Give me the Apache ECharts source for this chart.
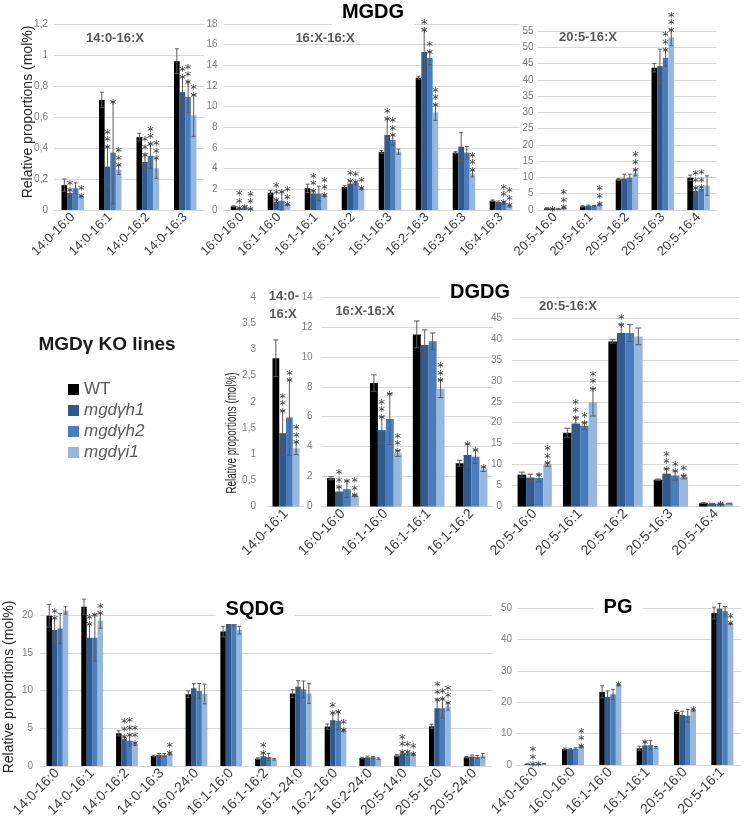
<!DOCTYPE html>
<html><head><meta charset="utf-8">
<script src="https://cdn.jsdelivr.net/npm/echarts@6/dist/echarts.min.js"></script>
<style>html,body{margin:0;padding:0;background:#fff}#c{width:745px;height:822px}</style>
</head><body><div id="c"></div>
<script>
// ---------- DATA ----------
const genotypes = ['WT', 'mgdγh1', 'mgdγh2', 'mgdγi1'];

// MGDG 14:0-16:X
const mgdgACats = ['14:0-16:0', '14:0-16:1', '14:0-16:2', '14:0-16:3'];
const mgdgAMean = [[0.16, 0.71, 0.47, 0.96], [0.11, 0.28, 0.31, 0.76], [0.14, 0.37, 0.35, 0.73], [0.09, 0.26, 0.27, 0.61]];
const mgdgAErr = [[0.04, 0.05, 0.025, 0.08], [0.02, 0.13, 0.05, 0.1], [0.035, 0.33, 0.08, 0.1], [0.005, 0.03, 0.065, 0.135]];
const mgdgAStars = [[0, 0, 0, 0], [2, 3, 3, 2], [0, 1, 3, 3], [2, 3, 3, 2]];

// MGDG 16:X-16:X
const mgdgBCats = ['16:0-16:0', '16:1-16:0', '16:1-16:1', '16:1-16:2', '16:1-16:3', '16:2-16:3', '16:3-16:3', '16:4-16:3'];
const mgdgBMean = [[0.35, 1.68, 2.1, 2.23, 5.6, 12.8, 5.55, 0.9], [0.16, 0.77, 1.6, 2.55, 7.26, 15.3, 6.13, 0.77], [0.22, 0.9, 1.6, 2.58, 6.77, 14.7, 5.55, 0.7], [0.1, 0.52, 1.39, 2.06, 5.65, 9.45, 3.55, 0.39]];
const mgdgBErr = [[0.05, 0.2, 0.4, 0.12, 0.15, 0.15, 0.1, 0.07], [0.05, 0.25, 0.3, 0.3, 1.6, 2.2, 1.35, 0.1], [0.15, 0.9, 0.7, 0.16, 0.5, 0.65, 0.6, 0.12], [0.03, 0.05, 0.1, 0.1, 0.25, 0.77, 0.35, 0.1]];
const mgdgBStars = [[0, 0, 0, 0, 0, 0, 0, 0], [3, 3, 3, 2, 2, 2, 0, 0], [1, 1, 0, 2, 3, 2, 0, 3], [3, 3, 3, 2, 0, 3, 3, 3]];

// MGDG 20:5-16:X
const mgdgCCats = ['20:5-16:0', '20:5-16:1', '20:5-16:2', '20:5-16:3', '20:5-16:4'];
const mgdgCMean = [[0.5, 1.1, 9.4, 43.7, 9.9], [0.4, 1.3, 9.7, 44.2, 5.9], [0.4, 1.2, 9.9, 46.8, 6.5], [0.7, 1.8, 11.5, 53.0, 7.5]];
const mgdgCErr = [[0.2, 0.2, 0.3, 1.3, 0.8], [0.1, 0.2, 1.3, 5.2, 1.0], [0.1, 0.2, 1.1, 2.6, 0.6], [0.2, 0.3, 1.0, 2.5, 3.0]];
const mgdgCStars = [[0, 0, 0, 0, 0], [1, 0, 0, 0, 3], [0, 0, 0, 3, 3], [3, 3, 3, 3, 0]];

// DGDG 14:0-16:X
const dgdgACats = ['14:0-16:1'];
const dgdgAMean = [[2.83], [1.4], [1.7], [1.11]];
const dgdgAErr = [[0.35], [0.43], [0.72], [0.12]];
const dgdgAStars = [[0], [3], [2], [3]];

// DGDG 16:X-16:X
const dgdgBCats = ['16:0-16:0', '16:1-16:0', '16:1-16:1', '16:1-16:2'];
const dgdgBMean = [[1.89, 8.25, 11.5, 2.89], [1.0, 5.1, 10.8, 3.44], [1.16, 5.85, 11.05, 3.33], [0.73, 3.55, 7.87, 2.49]];
const dgdgBErr = [[0.1, 0.55, 0.9, 0.2], [0.3, 0.9, 1.0, 0.75], [0.55, 1.7, 0.55, 0.45], [0.05, 0.2, 0.6, 0.15]];
const dgdgBStars = [[0, 0, 0, 0], [3, 3, 0, 1], [1, 1, 0, 1], [3, 3, 3, 1]];

// DGDG 20:5-16:X
const dgdgCCats = ['20:5-16:0', '20:5-16:1', '20:5-16:2', '20:5-16:3', '20:5-16:4'];
const dgdgCMean = [[7.6, 17.6, 39.4, 6.4, 0.8], [6.9, 19.8, 41.4, 7.84, 0.65], [6.8, 19.3, 41.4, 7.4, 0.65], [10.0, 24.9, 40.6, 7.0, 0.7]];
const dgdgCErr = [[0.6, 1.1, 0.4, 0.15, 0.1], [0.8, 1.5, 2.1, 1.2, 0.1], [0.9, 0.8, 2.0, 1.1, 0.1], [0.4, 3.3, 2.0, 0.4, 0.1]];
const dgdgCStars = [[0, 0, 0, 0, 0], [0, 3, 2, 3, 0], [1, 2, 0, 2, 1], [3, 3, 0, 2, 0]];

// SQDG
const sqdgCats = ['14:0-16:0', '14:0-16:1', '14:0-16:2', '14:0-16:3', '16:0-24:0', '16:1-16:0', '16:1-16:2', '16:1-24:0', '16:2-16:0', '16:2-24:0', '20:5-14:0', '20:5-16:0', '20:5-24:0'];
const sqdgMean = [
  [19.9, 21.1, 4.33, 1.33, 9.5, 17.8, 0.97, 9.6, 5.22, 1.06, 1.37, 5.25, 1.15],
  [18.0, 17.0, 3.55, 1.46, 10.3, 19.3, 1.28, 10.5, 6.06, 1.15, 1.68, 7.65, 1.24],
  [18.2, 17.0, 3.36, 1.46, 9.93, 19.5, 1.2, 10.15, 6.0, 1.15, 1.68, 7.65, 1.2],
  [20.6, 19.25, 2.9, 1.64, 9.54, 18.0, 0.88, 9.6, 4.7, 0.97, 1.55, 7.9, 1.37]];
const sqdgErr = [
  [1.5, 1.0, 0.33, 0.1, 0.45, 0.7, 0.1, 0.5, 0.35, 0.1, 0.12, 0.3, 0.1],
  [1.6, 1.8, 0.4, 0.2, 0.6, 1.0, 0.5, 0.8, 1.0, 0.15, 0.22, 1.2, 0.2],
  [2.0, 3.1, 0.75, 0.2, 1.0, 1.0, 0.48, 1.1, 1.2, 0.1, 0.22, 1.3, 0.2],
  [0.5, 1.0, 0.2, 0.16, 1.3, 0.5, 0.1, 1.3, 0.15, 0.1, 0.13, 0.5, 0.3]];
const sqdgStars = [
  [0, 0, 0, 0, 0, 0, 0, 0, 0, 0, 0, 0, 0],
  [2, 2, 3, 0, 0, 0, 2, 0, 2, 0, 3, 3, 0],
  [0, 1, 3, 0, 0, 0, 0, 0, 1, 0, 2, 2, 0],
  [0, 2, 3, 2, 0, 0, 0, 0, 2, 0, 2, 3, 0]];

// PG
const pgCats = ['14:0-16:0', '16:0-16:0', '16:1-16:0', '16:1-16:1', '20:5-16:0', '20:5-16:1'];
const pgMean = [[0.3, 5.1, 23.3, 5.3, 16.9, 48.4], [0.2, 5.0, 21.7, 6.25, 15.9, 49.8], [0.3, 5.2, 22.5, 6.35, 15.7, 49.0], [0.4, 5.9, 25.5, 5.6, 17.5, 45.0]];
const pgErr = [[0.1, 0.3, 1.9, 0.7, 0.5, 1.9], [0.1, 0.2, 1.9, 1.2, 1.2, 1.6], [0.1, 0.3, 1.6, 1.4, 2.0, 1.5], [0.1, 0.3, 0.3, 0.3, 0.3, 0.2]];
const pgStars = [[0, 0, 0, 0, 0, 0], [3, 0, 0, 1, 0, 0], [1, 0, 0, 0, 0, 0], [0, 3, 1, 0, 1, 2]];

// ---------- LAYOUT / STYLE ----------
const colors = ['#000000', '#2E5A8E', '#4A7DBE', '#98B7DD'];
const FONT = 'Liberation Sans';
const panels = [
  {cats: mgdgACats, mean: mgdgAMean, err: mgdgAErr, stars: mgdgAStars, grid: {left: 54, top: 24, width: 150, height: 186}, max: 1.2, interval: 0.2, gap: 0.40, ym: 6, xf: 13, split: true},
  {cats: mgdgBCats, mean: mgdgBMean, err: mgdgBErr, stars: mgdgBStars, grid: {left: 223.5, top: 24, width: 296, height: 186}, max: 18, interval: 2, gap: 0.39, ym: 6, xf: 13, split: true},
  {cats: mgdgCCats, mean: mgdgCMean, err: mgdgCErr, stars: mgdgCStars, grid: {left: 537.5, top: 31, width: 179, height: 179}, max: 55, interval: 5, gap: 0.37, ym: 4, xf: 13, split: true},
  {cats: dgdgACats, mean: dgdgAMean, err: dgdgAErr, stars: dgdgAStars, grid: {left: 268, top: 297, width: 36, height: 209.5}, max: 4, interval: 0.5, gap: 0.25, ym: 12, xf: 14, split: false},
  {cats: dgdgBCats, mean: dgdgBMean, err: dgdgBErr, stars: dgdgBStars, grid: {left: 321.5, top: 297, width: 171.5, height: 209.5}, max: 14, interval: 2, gap: 0.26, ym: 9, xf: 14, split: true},
  {cats: dgdgCCats, mean: dgdgCMean, err: dgdgCErr, stars: dgdgCStars, grid: {left: 512, top: 297, width: 227, height: 209.5}, max: 50, interval: 5, gap: 0.245, ym: 10, xf: 14, split: true},
  {cats: sqdgCats, mean: sqdgMean, err: sqdgErr, stars: sqdgStars, grid: {left: 40, top: 615, width: 452, height: 151}, max: 20, interval: 5, gap: 0.375, ym: 7, xf: 14, split: true},
  {cats: pgCats, mean: pgMean, err: pgErr, stars: pgStars, grid: {left: 517, top: 608, width: 224, height: 157}, max: 50, interval: 10, gap: 0.41, ym: 5, xf: 14, split: true}
];

const grids = [], xAxes = [], yAxes = [], series = [];
panels.forEach((p, pi) => {
  grids.push(Object.assign({outerBoundsMode: 'none', containLabel: false}, p.grid));
  xAxes.push({
    type: 'category', gridIndex: pi, data: p.cats,
    axisLine: {show: true, lineStyle: {color: '#d9d9d9', width: 1}},
    axisTick: {show: false},
    axisLabel: {interval: 0, rotate: 45, margin: 5, fontSize: p.xf, color: '#404040', fontFamily: FONT, hideOverlap: false},
    splitLine: {show: false}
  });
  yAxes.push({
    type: 'value', gridIndex: pi, min: 0, max: p.max, interval: p.interval,
    axisLine: {show: false}, axisTick: {show: false},
    axisLabel: {margin: p.ym, fontSize: 10, color: '#808080', fontFamily: FONT,
      formatter: v => String(Math.round(v * 100) / 100).replace('.', ',')},
    splitLine: {show: p.split, lineStyle: {color: '#d9d9d9', width: 1}}
  });
  genotypes.forEach((g, k) => {
    series.push({
      type: 'bar', name: g, xAxisIndex: pi, yAxisIndex: pi,
      data: p.mean[k], barGap: '0%', barCategoryGap: (p.gap * 100) + '%',
      itemStyle: {color: colors[k]}, clip: false, silent: true, z: 2
    });
  });
  genotypes.forEach((g, k) => {
    const data = p.cats.map((c, i) => [i, p.mean[k][i], p.err[k][i], p.stars[k][i]]);
    series.push({
      type: 'custom', xAxisIndex: pi, yAxisIndex: pi, z: 3, silent: true, clip: false,
      data: data, encode: {x: 0, y: 1},
      renderItem: function (params, api) {
        const i = api.value(0), v = api.value(1), e = api.value(2), s = api.value(3);
        const band = api.size([1, 0])[0];
        const gw = band * (1 - p.gap);
        const bw = gw / 4;
        const cx = api.coord([i, v])[0] - gw / 2 + bw * (k + 0.5);
        const yTop = api.coord([i, v + e])[1];
        const yBot = api.coord([i, Math.max(v - e, 0)])[1];
        const cap = Math.max(1.8, bw * 0.35);
        const ls = {stroke: '#5a5a5a', lineWidth: 1};
        const ch = [
          {type: 'line', shape: {x1: cx, y1: yTop, x2: cx, y2: yBot}, style: ls},
          {type: 'line', shape: {x1: cx - cap, y1: yTop, x2: cx + cap, y2: yTop}, style: ls},
          {type: 'line', shape: {x1: cx - cap, y1: yBot, x2: cx + cap, y2: yBot}, style: ls}
        ];
        for (let j = 0; j < s; j++) {
          ch.push({type: 'text', x: cx, y: yTop + 3 - j * 7.6,
            style: {text: '*', fill: '#404040', font: '13px "DejaVu Sans"', textAlign: 'center', textVerticalAlign: 'middle'}});
        }
        return {type: 'group', children: ch};
      }
    });
  });
});

function txt(t, x, y, font, fill, extra) {
  return {type: 'text', x: x, y: y, z: 100,
    style: Object.assign({text: t, font: font, fill: fill, textAlign: 'center', textVerticalAlign: 'middle'}, extra || {})};
}
const titleStyle = {backgroundColor: '#ffffff', padding: [4, 10, 6, 10]};
const graphics = [
  txt('MGDG', 373, 12, 'bold 20px "Liberation Sans"', '#000', titleStyle),
  txt('DGDG', 480, 292, 'bold 20px "Liberation Sans"', '#000', titleStyle),
  txt('SQDG', 255, 609, 'bold 20px "Liberation Sans"', '#000', titleStyle),
  txt('PG', 618, 607, 'bold 20px "Liberation Sans"', '#000', titleStyle),
  txt('14:0-16:X', 115, 38, 'bold 13px "Liberation Sans"', '#595959'),
  txt('16:X-16:X', 325, 38, 'bold 13px "Liberation Sans"', '#595959'),
  txt('20:5-16:X', 588, 37, 'bold 13px "Liberation Sans"', '#595959'),
  txt('14:0-', 284, 296, 'bold 13px "Liberation Sans"', '#595959'),
  txt('16:X', 283, 314, 'bold 13px "Liberation Sans"', '#595959'),
  txt('16:X-16:X', 365, 311, 'bold 13px "Liberation Sans"', '#595959'),
  txt('20:5-16:X', 568, 306, 'bold 13px "Liberation Sans"', '#595959'),
  Object.assign(txt('Relative proportions (mol%)', 28, 112, '14px "Liberation Sans"', '#262626'), {rotation: Math.PI / 2}),
  Object.assign(txt('Relative proportions (mol%)', 232, 433, '14px "Liberation Sans"', '#262626'), {rotation: Math.PI / 2, scaleX: 0.7}),
  Object.assign(txt('Relative proportions (mol%)', 9, 687, '14px "Liberation Sans"', '#262626'), {rotation: Math.PI / 2}),
  txt('MGDγ KO lines', 107, 345, 'bold 19px "Liberation Sans"', '#1a1a1a')
];

const chart = echarts.init(document.getElementById('c'), null, {renderer: 'canvas'});
chart.setOption({
  animation: false,
  backgroundColor: '#ffffff',
  grid: grids, xAxis: xAxes, yAxis: yAxes, series: series,
  legend: {
    orient: 'vertical', left: 63, top: 376, itemWidth: 11, itemHeight: 11, itemGap: 4,
    icon: 'rect', selectedMode: false,
    textStyle: {fontSize: 17, color: '#595959', fontFamily: FONT},
    data: [
      {name: 'WT'},
      {name: 'mgdγh1', textStyle: {fontStyle: 'italic'}},
      {name: 'mgdγh2', textStyle: {fontStyle: 'italic'}},
      {name: 'mgdγi1', textStyle: {fontStyle: 'italic'}}
    ]
  },
  graphic: graphics
});
</script></body></html>
